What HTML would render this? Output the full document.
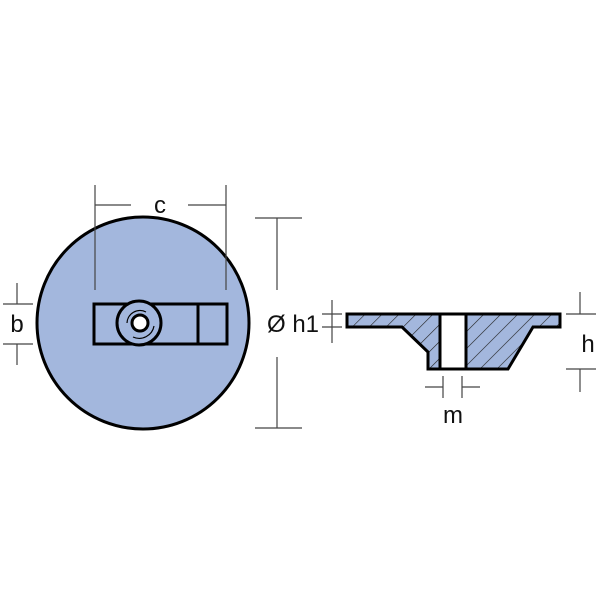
<!DOCTYPE html>
<html><head><style>
html,body{margin:0;padding:0;background:#fff;}
svg{display:block;}
text{font-family:"Liberation Sans","DejaVu Sans",sans-serif;fill:#111;}
</style></head><body>
<svg width="600" height="600" viewBox="0 0 600 600">
<defs>
<pattern id="hatch" patternUnits="userSpaceOnUse" width="12" height="12" patternTransform="rotate(45)">
<rect width="12" height="12" fill="#a3b7dd"/>
<line x1="0" y1="0" x2="0" y2="12" stroke="#222" stroke-width="1.2"/>
</pattern>
</defs>
<circle cx="143" cy="323" r="106" fill="#a3b7dd" stroke="#000" stroke-width="3"/>
<rect x="94" y="304" width="133" height="40" fill="#a3b7dd" stroke="#000" stroke-width="3"/>
<line x1="198" y1="304" x2="198" y2="344" stroke="#000" stroke-width="3"/>
<circle cx="139" cy="323" r="22" fill="#a3b7dd" stroke="#000" stroke-width="3"/>
<path d="M127 323 A13 13 0 0 1 146 312" fill="none" stroke="#000" stroke-width="1.2"/>
<path d="M133 337 A15 15 0 0 0 154 326" fill="none" stroke="#000" stroke-width="1.2"/>
<circle cx="140" cy="323" r="8" fill="#fff" stroke="#000" stroke-width="3"/>
<g stroke="#444" stroke-width="1.2" fill="none">
<line x1="95" y1="185" x2="95" y2="290"/>
<line x1="226" y1="185" x2="226" y2="290"/>
<line x1="95" y1="205" x2="131" y2="205"/>
<line x1="188" y1="205" x2="226" y2="205"/>
<line x1="17" y1="283" x2="17" y2="304"/>
<line x1="17" y1="344" x2="17" y2="365"/>
<line x1="3" y1="304" x2="33" y2="304"/>
<line x1="3" y1="344" x2="33" y2="344"/>
<line x1="277" y1="218" x2="277" y2="290"/>
<line x1="277" y1="357" x2="277" y2="428"/>
<line x1="255" y1="218" x2="302" y2="218"/>
<line x1="255" y1="428" x2="302" y2="428"/>
<line x1="332" y1="300" x2="332" y2="343"/>
<line x1="322" y1="314" x2="342" y2="314"/>
<line x1="322" y1="327" x2="342" y2="327"/>
<line x1="580" y1="292" x2="580" y2="314"/>
<line x1="580" y1="369" x2="580" y2="392"/>
<line x1="566" y1="314" x2="596" y2="314"/>
<line x1="566" y1="369" x2="596" y2="369"/>
<line x1="443" y1="376" x2="443" y2="398"/>
<line x1="462" y1="376" x2="462" y2="398"/>
<line x1="425" y1="387" x2="443" y2="387"/>
<line x1="462" y1="387" x2="480" y2="387"/>
</g>
<path d="M347 314 L560 314 L560 327 L533 327 L508 369 L428 369 L428 352 L402 327 L347 327 Z" fill="url(#hatch)" stroke="#000" stroke-width="3"/>
<rect x="440" y="314" width="26" height="55" fill="#fff" stroke="#000" stroke-width="3"/>
<text x="160" y="213" font-size="24" text-anchor="middle">c</text>
<text x="17" y="332" font-size="24" text-anchor="middle">b</text>
<text x="267" y="332" font-size="24">Ø h1</text>
<text x="588" y="352" font-size="24" text-anchor="middle">h</text>
<text x="453" y="423" font-size="24" text-anchor="middle">m</text>
</svg>
</body></html>
